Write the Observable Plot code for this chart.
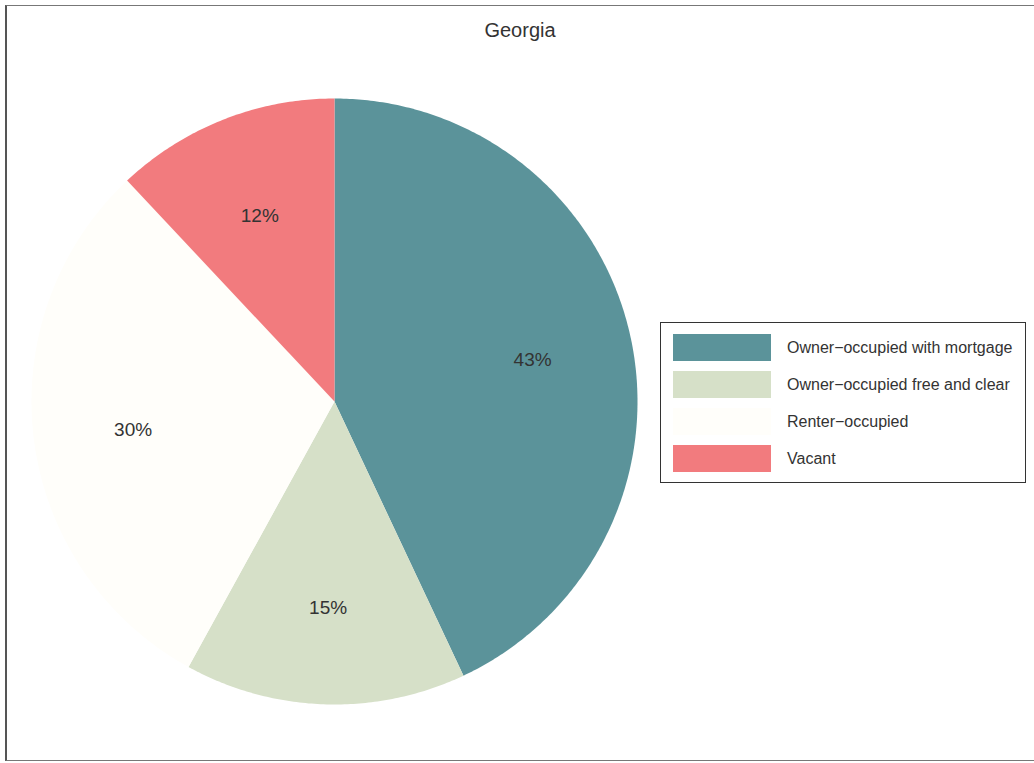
<!DOCTYPE html>
<html>
<head>
<meta charset="utf-8">
<script src="https://cdn.jsdelivr.net/npm/d3@7"></script>
<script src="https://cdn.jsdelivr.net/npm/@observablehq/plot@0.6"></script>
<style>
  html, body { margin: 0; padding: 0; background: #fff; }
  #wrap { position: relative; width: 1034px; height: 763px; overflow: hidden; font-family: "Liberation Sans", Arial, sans-serif; }
  #frame { position: absolute; left: 5px; top: 5px; width: 1040px; height: 756px; border: 1.5px solid #777; border-left: 2px solid #555; box-sizing: border-box; }
  #title { position: absolute; left: 0; width: 1040px; top: 19px; text-align: center; font-size: 20px; color: #333; }
  #legend { position: absolute; left: 660px; top: 322px; width: 366px; height: 161px; border: 1.5px solid #333; box-sizing: border-box; background: #fff; }
  .row { position: absolute; left: 12px; height: 27px; display: flex; align-items: center; }
  .sw { width: 98px; height: 27px; margin-right: 16px; }
  .lab { font-size: 16px; color: #333; white-space: nowrap; }
  svg { position: absolute; left: 0; top: 0; }
</style>
</head>
<body>
<div id="wrap">
  <div id="chart"></div>
  <div id="frame"></div>
  <div id="title">Georgia</div>
  <div id="legend"></div>
</div>
<script>
const categories = ["Owner−occupied with mortgage", "Owner−occupied free and clear", "Renter−occupied", "Vacant"];
const values = [43, 15, 30, 12];
const labels = ["43%", "15%", "30%", "12%"];
const colors = ["#5b939a", "#d6e0c8", "#fffefa", "#f27b7e"];

const data = categories.map((c, i) => ({category: c, value: values[i], label: labels[i]}));
const arcs = d3.pie().sort(null).value(d => d.value)(data);

// polygon outline for each slice (geometry only)
const pts = [];
for (const a of arcs) {
  const c = a.data.category;
  pts.push({category: c, x: 0, y: 0});
  const n = Math.max(2, Math.ceil((a.endAngle - a.startAngle) / 0.01));
  for (let k = 0; k <= n; k++) {
    const t = a.startAngle + (a.endAngle - a.startAngle) * k / n;
    pts.push({category: c, x: Math.sin(t), y: Math.cos(t)});
  }
  pts.push({category: c, x: 0, y: 0});
}
const lab = arcs.map(a => {
  const m = (a.startAngle + a.endAngle) / 2;
  return {label: a.data.label, x: 0.67 * Math.sin(m), y: 0.67 * Math.cos(m)};
});

const chart = Plot.plot({
  width: 1034,
  height: 763,
  marginLeft: 31,
  marginRight: 397,
  marginTop: 98,
  marginBottom: 59,
  x: {domain: [-1, 1], axis: null},
  y: {domain: [-1, 1], axis: null},
  color: {domain: categories, range: colors},
  style: {background: "transparent", fontFamily: "Liberation Sans, Arial, sans-serif"},
  marks: [
    Plot.line(pts, {x: "x", y: "y", z: "category", fill: "category", stroke: null}),
    Plot.text(lab, {x: "x", y: "y", text: "label", fontSize: 19, fill: "#333", dy: 3})
  ]
});
document.getElementById("chart").appendChild(chart);

const legend = document.getElementById("legend");
categories.forEach((c, i) => {
  const row = document.createElement("div");
  row.className = "row";
  row.style.top = (11 + i * 37) + "px";
  const sw = document.createElement("div");
  sw.className = "sw";
  sw.style.background = colors[i];
  const t = document.createElement("span");
  t.className = "lab";
  t.textContent = c;
  row.appendChild(sw);
  row.appendChild(t);
  legend.appendChild(row);
});
</script>
</body>
</html>
